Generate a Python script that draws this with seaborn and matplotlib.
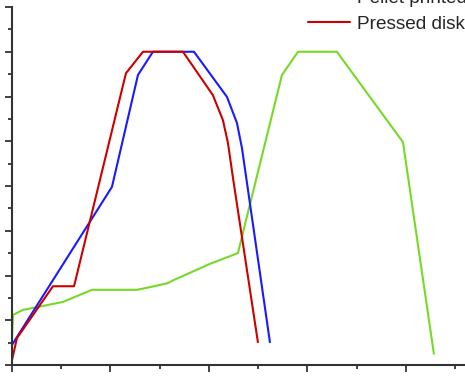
import matplotlib
matplotlib.use("Agg")
import matplotlib.pyplot as plt
from matplotlib.ticker import MultipleLocator
import seaborn as sns
import pandas as pd

# values (axis units: 1 per major tick)
blue_x = [0.0, 1.015, 1.279, 1.431, 1.848, 2.183, 2.284, 2.335, 2.619]
blue_y = [0.45, 3.98, 6.48, 7.0, 7.0, 5.99, 5.41, 4.85, 0.51]

red_x = [0.0, 0.05, 0.416, 0.63, 1.157, 1.33, 1.736, 2.04, 2.142, 2.193, 2.244, 2.497]
red_y = [0.11, 0.60, 1.76, 1.76, 6.52, 7.0, 7.0, 6.03, 5.47, 4.96, 4.18, 0.51]

green_x = [0.0, 0.01, 0.11, 0.315, 0.518, 0.812, 1.269, 1.401, 1.584, 1.624,
           2.01, 2.294, 2.741, 2.904, 3.299, 3.97, 4.284]
green_y = [0.56, 1.12, 1.23, 1.32, 1.41, 1.68, 1.68, 1.74, 1.83, 1.88,
           2.26, 2.50, 6.48, 7.0, 7.0, 4.98, 0.25]

labels = ["Pellet printed", "Pressed disks"]

sns.set_style("ticks")
plt.rcParams['font.family'] = ['Liberation Sans', 'DejaVu Sans']

fig = plt.figure(figsize=(4.65, 3.76), dpi=100)
ax = fig.add_axes([12/465, 11/376, 453/465, 358/376])

green = pd.DataFrame({"x": green_x, "y": green_y})
blue = pd.DataFrame({"x": blue_x, "y": blue_y})
red = pd.DataFrame({"x": red_x, "y": red_y})

sns.lineplot(data=green, x="x", y="y", sort=False, color="#77d926", lw=1.5, ax=ax)
sns.lineplot(data=blue, x="x", y="y", sort=False, color="#1a1aff", lw=1.5,
             ax=ax, label=labels[0])
sns.lineplot(data=red, x="x", y="y", sort=False, color="#cc0000", lw=1.5,
             ax=ax, label=labels[1])

ax.set_xlim(0, 4.6)
ax.set_ylim(0, 8)
ax.xaxis.set_major_locator(MultipleLocator(1))
ax.xaxis.set_minor_locator(MultipleLocator(0.5))
ax.yaxis.set_major_locator(MultipleLocator(1))
ax.yaxis.set_minor_locator(MultipleLocator(0.5))
ax.tick_params(which="major", length=5, width=1.3, color="#333333",
               labelbottom=False, labelleft=False)
ax.tick_params(which="minor", length=3, width=1.3, color="#333333")
ax.set_xlabel("")
ax.set_ylabel("")
for s in ["top", "right"]:
    ax.spines[s].set_visible(False)
for s in ["left", "bottom"]:
    ax.spines[s].set_linewidth(1.5)
    ax.spines[s].set_color("#333333")

ax.legend(loc="lower left", bbox_to_anchor=(308/465, 1 - 33/376),
          bbox_transform=fig.transFigure, frameon=False, fontsize=13.7,
          borderpad=0, borderaxespad=0, handlelength=2.2,
          handletextpad=0.4, labelspacing=0.45)

fig.savefig("out.png", dpi=100)
